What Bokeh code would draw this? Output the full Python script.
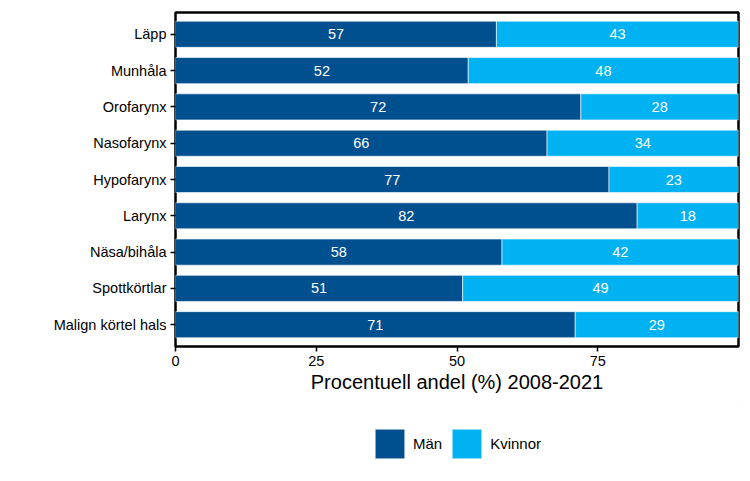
from bokeh.plotting import figure
from bokeh.layouts import column
from bokeh.models import ColumnDataSource, FactorRange, Range1d, FixedTicker, Legend, LegendItem, LabelSet
from bokeh.core.properties import value
from bokeh.embed import file_html
from bokeh.resources import INLINE

categories = ["Läpp", "Munhåla", "Orofarynx", "Nasofarynx", "Hypofarynx",
              "Larynx", "Näsa/bihåla", "Spottkörtlar", "Malign körtel hals"]
men = [57, 52, 72, 66, 77, 82, 58, 51, 71]
women = [43, 48, 28, 34, 23, 18, 42, 49, 29]
x_ticks = [0, 25, 50, 75]
series_names = ["Män", "Kvinnor"]
colors = ["#00508F", "#00B2F2"]

FONT = "Liberation Sans"

src = ColumnDataSource(dict(
    cat=categories,
    men=men,
    women=women,
    total=[m + w for m, w in zip(men, women)],
    men_mid=[m / 2 for m in men],
    women_mid=[m + w / 2 for m, w in zip(men, women)],
    men_lab=[str(m) for m in men],
    women_lab=[str(w) for w in women],
))

p = figure(width=742, height=400, output_backend="svg", toolbar_location=None,
           y_range=FactorRange(factors=list(reversed(categories)),
                               range_padding=0.1, range_padding_units="absolute"),
           x_range=Range1d(0, 100),
           min_border_left=175, min_border_right=4, min_border_top=12, min_border_bottom=54)

r_men = p.hbar(y="cat", left=0, right="men", height=0.72, source=src,
               fill_color=colors[0], line_color="white", line_width=0.6)
r_women = p.hbar(y="cat", left="men", right="total", height=0.72, source=src,
                 fill_color=colors[1], line_color="white", line_width=0.6)

for xcol, tcol in (("men_mid", "men_lab"), ("women_mid", "women_lab")):
    p.add_layout(LabelSet(x=xcol, y="cat", text=tcol, source=src,
                          text_color="white", text_align="center", text_baseline="middle",
                          text_font=value(FONT), text_font_size="14.5px"))

p.xgrid.visible = False
p.ygrid.visible = False
p.outline_line_color = "black"
p.outline_line_width = 2.5
p.outline_line_alpha = 1

p.xaxis.ticker = FixedTicker(ticks=x_ticks)
p.xaxis.axis_label = "Procentuell andel (%) 2008-2021"
p.xaxis.axis_label_text_font = FONT
p.xaxis.axis_label_text_font_style = "normal"
p.xaxis.axis_label_text_font_size = "20px"
p.xaxis.axis_label_text_color = "black"
p.xaxis.axis_label_standoff = 2
for ax in (p.xaxis, p.yaxis):
    ax.axis_line_color = None
    ax.major_tick_line_color = "black"
    ax.major_tick_line_width = 1.5
    ax.major_tick_out = 5
    ax.major_tick_in = 0
    ax.minor_tick_line_color = None
    ax.major_label_text_font = FONT
    ax.major_label_text_font_size = "14.5px"
    ax.major_label_text_color = "black"
    ax.major_label_standoff = 4

# Legend figure below the main chart
leg_fig = figure(width=742, height=75, output_backend="svg", toolbar_location=None,
                 x_range=Range1d(0, 1), y_range=Range1d(0, 1),
                 min_border=0, outline_line_color=None)
leg_fig.axis.visible = False
leg_fig.grid.visible = False
offscreen = ColumnDataSource(dict(x=[5], y=[5]))
lr1 = leg_fig.hbar(y="y", left="x", right="x", height=0.1, source=offscreen,
                   fill_color=colors[0], line_color="white", line_width=0.6)
lr2 = leg_fig.hbar(y="y", left="x", right="x", height=0.1, source=offscreen,
                   fill_color=colors[1], line_color="white", line_width=0.6)
legend = Legend(items=[LegendItem(label=series_names[0], renderers=[lr1]),
                       LegendItem(label=series_names[1], renderers=[lr2])],
                orientation="horizontal", location=(196, 13),
                glyph_width=37, glyph_height=37,
                label_text_font=FONT, label_text_font_size="15px",
                label_text_color="black",
                border_line_color=None, background_fill_alpha=0,
                margin=0, padding=8, spacing=6, label_standoff=5)
leg_fig.add_layout(legend, "center")

open("out.html", "w").write(file_html(column(p, leg_fig), INLINE))
